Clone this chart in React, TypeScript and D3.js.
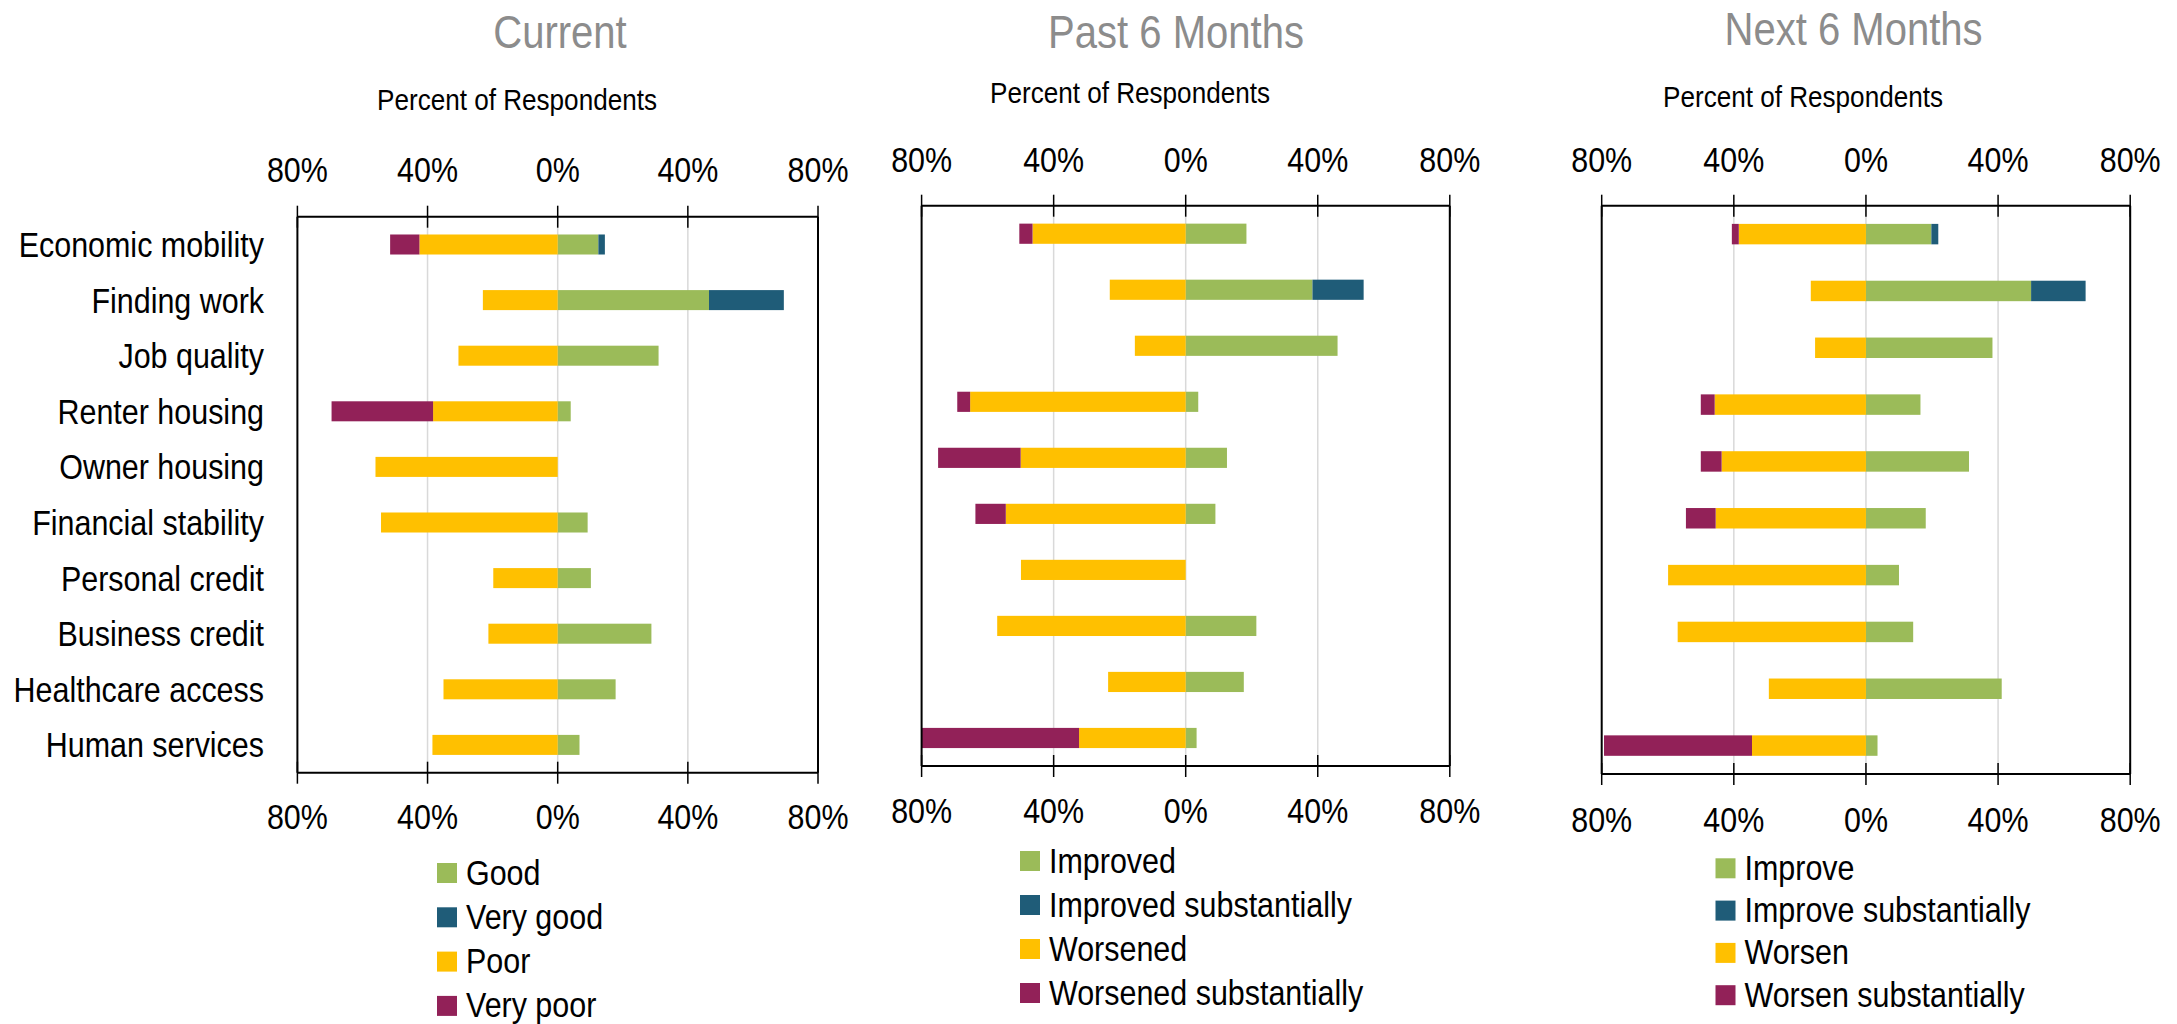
import React, { useEffect, useRef } from "react";
import * as d3 from "d3";

const categories = [
  "Economic mobility",
  "Finding work",
  "Job quality",
  "Renter housing",
  "Owner housing",
  "Financial stability",
  "Personal credit",
  "Business credit",
  "Healthcare access",
  "Human services",
];

// Current
const currentGood = [12.5, 46.5, 31, 4, 0, 9.2, 10.2, 28.8, 17.8, 6.7];
const currentVeryGood = [2, 23, 0, 0, 0, 0, 0, 0, 0, 0];
const currentPoor = [42.5, 23, 30.5, 38.3, 56, 54.3, 19.8, 21.3, 35.1, 38.5];
const currentVeryPoor = [9, 0, 0, 31.2, 0, 0, 0, 0, 0, 0];

// Past 6 months
const pastImproved = [18.4, 38.4, 46, 3.8, 12.5, 9, 0, 21.4, 17.6, 3.3];
const pastImprovedSub = [0, 15.5, 0, 0, 0, 0, 0, 0, 0, 0];
const pastWorsened = [46.4, 23, 15.4, 65.3, 50, 54.5, 49.9, 57.1, 23.5, 32.3];
const pastWorsenedSub = [4, 0, 0, 3.9, 25, 9.2, 0, 0, 0, 47.8];

// Next 6 months
const nextImprove = [19.8, 50, 38.3, 16.5, 31.2, 18.1, 10, 14.3, 41.1, 3.5];
const nextImproveSub = [2.1, 16.5, 0, 0, 0, 0, 0, 0, 0, 0];
const nextWorsen = [38.5, 16.7, 15.4, 45.8, 43.7, 45.5, 59.9, 57, 29.4, 34.5];
const nextWorsenSub = [2.1, 0, 0, 4.2, 6.3, 9, 0, 0, 0, 44.8];

const tickValues = [-80, -40, 0, 40, 80];
const gridValues = [-40, 0, 40];

const GREEN = "#9bbb59";
const BLUE = "#1f5c78";
const YELLOW = "#ffc000";
const PURPLE = "#922158";
const FONT = "'Liberation Sans', Arial, sans-serif";
const NARROW = 0.87; // no narrow font installed, squeeze Liberation Sans instead

const panels = [
  {
    title: "Current",
    legend: ["Good", "Very good", "Poor", "Very poor"],
    series: [currentGood, currentVeryGood, currentPoor, currentVeryPoor],
    x0: 297.4, x1: 818, y0: 216.7, y1: 772.7,
    titleX: 560, titleY: 48, subX: 517, subY: 110,
    topLabelY: 182, bottomLabelY: 829,
    legX: 437, legY: 863, legStep: 44.3, labels: true,
  },
  {
    title: "Past 6 Months",
    legend: ["Improved", "Improved substantially", "Worsened", "Worsened substantially"],
    series: [pastImproved, pastImprovedSub, pastWorsened, pastWorsenedSub],
    x0: 921.6, x1: 1449.8, y0: 205.7, y1: 766,
    titleX: 1176, titleY: 48.3, subX: 1130, subY: 103,
    topLabelY: 171.7, bottomLabelY: 823.3,
    legX: 1020, legY: 851, legStep: 44, labels: false,
  },
  {
    title: "Next 6 Months",
    legend: ["Improve", "Improve substantially", "Worsen", "Worsen substantially"],
    series: [nextImprove, nextImproveSub, nextWorsen, nextWorsenSub],
    x0: 1601.7, x1: 2130.2, y0: 205.7, y1: 774,
    titleX: 1853.6, titleY: 45, subX: 1803, subY: 107,
    topLabelY: 171.7, bottomLabelY: 831.7,
    legX: 1715.5, legY: 858.3, legStep: 42.3, labels: false,
  },
];

const App = () => {
  const ref = useRef<SVGSVGElement>(null);

  useEffect(() => {
    document.body.style.margin = "0";
    const svg = d3.select(ref.current);
    svg.selectAll("*").remove();

    const at = (x: number, y: number) => `translate(${x},${y}) scale(${NARROW},1)`;

    panels.forEach((p) => {
      const g = svg.append("g");
      const x = d3.scaleLinear().domain([-80, 80]).range([p.x0, p.x1]);
      const y = d3
        .scaleBand()
        .domain(categories)
        .range([p.y0, p.y1])
        .paddingInner(0.64)
        .paddingOuter(0.32);

      // gridlines
      g.selectAll(".grid")
        .data(gridValues)
        .enter()
        .append("line")
        .attr("x1", (d) => x(d))
        .attr("x2", (d) => x(d))
        .attr("y1", p.y0)
        .attr("y2", p.y1)
        .attr("stroke", "#d9d9d9")
        .attr("stroke-width", 1.5);

      const [good, veryGood, poor, veryPoor] = p.series;
      const rows = categories.map((c, i) => ({
        c,
        segs: [
          { a: 0, b: good[i], color: GREEN },
          { a: good[i], b: good[i] + veryGood[i], color: BLUE },
          { a: -poor[i], b: 0, color: YELLOW },
          { a: -poor[i] - veryPoor[i], b: -poor[i], color: PURPLE },
        ],
      }));

      const row = g
        .selectAll(".row")
        .data(rows)
        .enter()
        .append("g")
        .attr("transform", (d) => `translate(0,${y(d.c)})`);

      row
        .selectAll("rect")
        .data((d) => d.segs.filter((s) => s.b - s.a > 0))
        .enter()
        .append("rect")
        .attr("x", (s) => x(s.a))
        .attr("width", (s) => x(s.b) - x(s.a))
        .attr("y", 0)
        .attr("height", y.bandwidth())
        .attr("fill", (s) => s.color);

      // frame and axes
      [p.y0, p.y1].forEach((yy) => {
        g.append("line")
          .attr("x1", p.x0).attr("x2", p.x1)
          .attr("y1", yy).attr("y2", yy)
          .attr("stroke", "#000").attr("stroke-width", 2);
        g.selectAll(null)
          .data(tickValues)
          .enter()
          .append("line")
          .attr("x1", (d) => x(d)).attr("x2", (d) => x(d))
          .attr("y1", yy - 11).attr("y2", yy + 11)
          .attr("stroke", "#000").attr("stroke-width", 1.5);
      });
      [p.x0, p.x1].forEach((xx) => {
        g.append("line")
          .attr("x1", xx).attr("x2", xx)
          .attr("y1", p.y0).attr("y2", p.y1)
          .attr("stroke", "#000").attr("stroke-width", 2);
      });

      const fmt = (d: number) => `${Math.abs(d)}%`;
      [p.topLabelY, p.bottomLabelY].forEach((ly) => {
        g.selectAll(null)
          .data(tickValues)
          .enter()
          .append("text")
          .attr("transform", (d) => at(x(d), ly))
          .attr("text-anchor", "middle")
          .attr("font-family", FONT)
          .attr("font-size", 35)
          .attr("fill", "#000")
          .text(fmt);
      });

      if (p.labels) {
        g.selectAll(null)
          .data(categories)
          .enter()
          .append("text")
          .attr("transform", (d) => at(264, (y(d) as number) + y.bandwidth() / 2 + 12.5))
          .attr("text-anchor", "end")
          .attr("font-family", FONT)
          .attr("font-size", 35)
          .attr("fill", "#000")
          .text((d) => d);
      }

      // titles
      g.append("text")
        .attr("transform", at(p.titleX, p.titleY))
        .attr("text-anchor", "middle")
        .attr("font-family", FONT)
        .attr("font-size", 46)
        .attr("fill", "#8c8c8c")
        .text(p.title);
      g.append("text")
        .attr("transform", at(p.subX, p.subY))
        .attr("text-anchor", "middle")
        .attr("font-family", FONT)
        .attr("font-size", 30)
        .attr("fill", "#000")
        .text("Percent of Respondents");

      // legend
      const legColors = [GREEN, BLUE, YELLOW, PURPLE];
      const leg = g
        .selectAll(".leg")
        .data(p.legend)
        .enter()
        .append("g")
        .attr("transform", (d, i) => `translate(${p.legX},${p.legY + i * p.legStep})`);
      leg.append("rect")
        .attr("width", 20).attr("height", 20)
        .attr("fill", (d, i) => legColors[i]);
      leg.append("text")
        .attr("transform", at(29, 21.5))
        .attr("font-family", FONT)
        .attr("font-size", 35)
        .attr("fill", "#000")
        .text((d) => d);
    });
  }, []);

  return <svg ref={ref} width={2177} height={1024} style={{ display: "block" }}></svg>;
};

export default App;
